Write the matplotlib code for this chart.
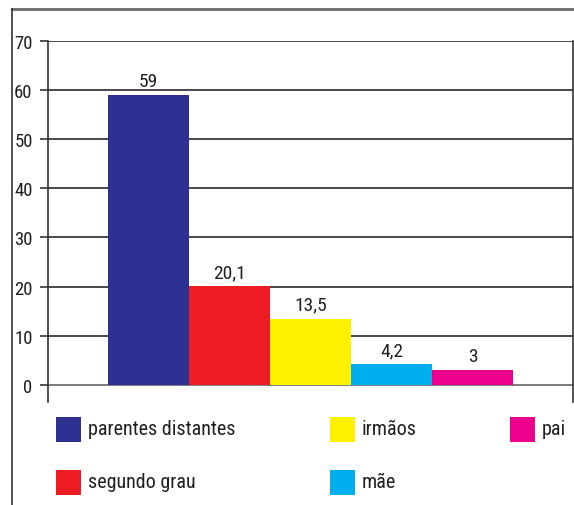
import numpy as np
import matplotlib.pyplot as plt
from matplotlib.lines import Line2D
from matplotlib.patches import Rectangle

plt.rcParams['font.family'] = ['Roboto Condensed', 'DejaVu Sans']

categories = ['parentes distantes', 'segundo grau', 'irmãos', 'mãe', 'pai']
values = [59, 20.1, 13.5, 4.2, 3]
colors = ['#2E3192', '#ED1C24', '#FFF200', '#00AEEF', '#EC008C']
yticks = [0, 10, 20, 30, 40, 50, 60, 70]

W, H = 574, 506
fig = plt.figure(figsize=(W / 100, H / 100), dpi=100)
ax = fig.add_axes([48 / W, 1 - 403 / H, 525 / W, 361 / H])

txt = '#231F20'
x = np.arange(len(values))
bars = ax.bar(x, values, width=1.0, color=colors, zorder=3)
labels = ['{:g}'.format(v).replace('.', ',') for v in values]
ax.bar_label(bars, labels=labels, padding=3.5, fontsize=14, color=txt)

ax.set_xlim(-1.24, len(values) - 1 + 1.24)
ax.set_ylim(-3.5, 70)
ax.set_yticks(yticks)
ax.set_yticklabels([str(t) for t in yticks], fontsize=13.5, color=txt)
ax.set_xticks([])
ax.grid(axis='y', color='#2a2a2a', linewidth=1.2, zorder=0)
ax.tick_params(axis='y', length=6, width=1.2, color='#333333', pad=5)
ax.get_ygridlines()[0].set_color('#666666')

ax.spines['bottom'].set_visible(False)
ax.spines['top'].set_visible(False)
for s in ['left', 'right']:
    ax.spines[s].set_color('#333333')
    ax.spines[s].set_linewidth(1.2)

# outer frame (top and left only)
fig.add_artist(Line2D([12 / W, 1], [1 - 10 / H, 1 - 10 / H], color='#777777', lw=2.2))
fig.add_artist(Line2D([12 / W, 12 / W], [1 - 10 / H, 0], color='#333333', lw=1.2))

# legend laid out in 3 columns, 2 rows
col_x = [56, 330, 510]
row_y = [430, 483]
box = 25
for i, (name, c) in enumerate(zip(categories, colors)):
    cx = col_x[i // 2]
    cy = row_y[i % 2]
    fig.add_artist(Rectangle((cx / W, 1 - (cy + box / 2) / H), box / W, box / H,
                             facecolor=c, edgecolor='none'))
    fig.text((cx + box + 7) / W, 1 - cy / H, name, fontsize=14.5, color=txt,
             va='center', ha='left')

fig.savefig('out.png', dpi=100)
